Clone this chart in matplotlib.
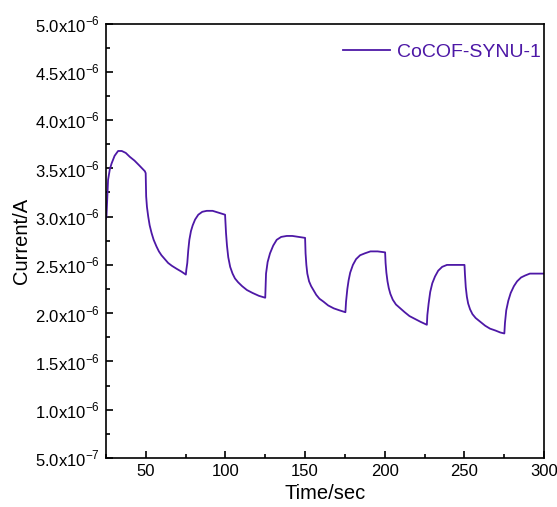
import matplotlib.pyplot as plt
from matplotlib.ticker import MultipleLocator, FuncFormatter

plt.rcParams['font.family'] = ['Liberation Sans', 'DejaVu Sans']
plt.rcParams['mathtext.fontset'] = 'custom'
plt.rcParams['mathtext.rm'] = 'Liberation Sans'

# Время, с
time = [25, 25.4, 26.4, 27.5, 28.6, 30.5, 32.7, 35, 37.5, 40, 43, 46, 49.5,
        50, 50.3, 50.8, 51.6, 52.5, 53.7, 55, 56.8, 58.3, 59.9, 62, 64.1, 66.5, 69.4, 72.5, 75.2,
        75.5, 76.1, 76.7, 77.4, 78.4, 79.5, 81, 83, 85.5, 88.3, 92, 96, 99.8,
        100, 100.4, 101, 101.8, 103, 104.5, 106, 108, 110.5, 113.5, 117, 121, 125,
        125.5, 126.5, 128, 130, 132.2, 135, 138.5, 142, 146, 150,
        150.3, 150.8, 151.4, 152.5, 153.8, 155.2, 157, 159, 161.5, 164.5, 168, 171.5, 175.3,
        175.7, 176.5, 177.3, 178.3, 180, 182, 184.5, 187.5, 191, 195.5, 200.2,
        200.5, 201, 201.7, 202.5, 203.5, 205, 207, 209.7, 212.5, 215.5, 219, 222.5, 226.4,
        226.7, 227.5, 228.5, 229.8, 231.5, 233.5, 236, 239, 243, 247, 250,
        250.3, 250.8, 251.5, 252.3, 253.5, 255, 257, 260, 263, 266, 269.5, 272.5, 275,
        275.4, 276.2, 277.5, 279, 281, 283, 285.5, 288, 291, 295, 300]

# Ток, x1e-6 A
current = [2.98, 3.00, 3.38, 3.49, 3.55, 3.63, 3.68, 3.68, 3.66, 3.62, 3.58, 3.53, 3.47,
           3.45, 3.21, 3.10, 3.00, 2.91, 2.83, 2.76, 2.69, 2.64, 2.60, 2.56, 2.52, 2.49, 2.46, 2.43, 2.40,
           2.45, 2.52, 2.65, 2.76, 2.85, 2.91, 2.97, 3.02, 3.05, 3.06, 3.06, 3.04, 3.02,
           2.95, 2.83, 2.70, 2.58, 2.48, 2.41, 2.36, 2.32, 2.28, 2.24, 2.21, 2.18, 2.16,
           2.41, 2.53, 2.62, 2.70, 2.76, 2.79, 2.80, 2.80, 2.79, 2.78,
           2.62, 2.50, 2.41, 2.33, 2.28, 2.24, 2.19, 2.15, 2.12, 2.08, 2.05, 2.03, 2.01,
           2.12, 2.25, 2.34, 2.42, 2.50, 2.56, 2.60, 2.62, 2.64, 2.64, 2.63,
           2.52, 2.42, 2.33, 2.26, 2.20, 2.14, 2.09, 2.05, 2.01, 1.97, 1.94, 1.91, 1.88,
           1.98, 2.10, 2.22, 2.31, 2.38, 2.44, 2.48, 2.50, 2.50, 2.50, 2.50,
           2.40, 2.27, 2.17, 2.10, 2.04, 1.99, 1.95, 1.91, 1.87, 1.84, 1.82, 1.80, 1.79,
           1.90, 2.03, 2.13, 2.21, 2.28, 2.33, 2.37, 2.39, 2.41, 2.41, 2.41]

current_A = [c * 1e-6 for c in current]

line_color = '#4d18a6'


def sci(v, pos):
    m, e = f'{v:.1e}'.split('e')
    return f'{m}x10$^{{{int(e)}}}$'


fig = plt.figure(figsize=(5.57, 5.07), dpi=100)
ax = fig.add_axes([0.19, 0.0966, 0.787, 0.857])
ax.plot(time, current_A, color=line_color, lw=1.3, label='CoCOF-SYNU-1')

ax.set_xlim(25, 300)
ax.set_ylim(5e-7, 5e-6)
ax.xaxis.set_major_locator(MultipleLocator(50))
ax.xaxis.set_minor_locator(MultipleLocator(25))
ax.yaxis.set_major_locator(MultipleLocator(5e-7))
ax.yaxis.set_minor_locator(MultipleLocator(2.5e-7))
ax.yaxis.set_major_formatter(FuncFormatter(sci))
ax.tick_params(which='both', direction='in', labelsize=12, width=1.2)
ax.tick_params(which='major', length=5, pad=4)
ax.tick_params(which='minor', length=3)
for s in ax.spines.values():
    s.set_linewidth(1.2)

ax.set_xlabel('Time/sec', fontsize=14.5, labelpad=4)
ax.set_ylabel('Current/A', fontsize=14.5, labelpad=3)

leg = ax.legend(loc='upper right', frameon=False, fontsize=14, handlelength=2.4,
                handletextpad=0.4, borderaxespad=0.2, bbox_to_anchor=(1.02, 0.982))
for t in leg.get_texts():
    t.set_color(line_color)

plt.savefig('out.png', dpi=100)
